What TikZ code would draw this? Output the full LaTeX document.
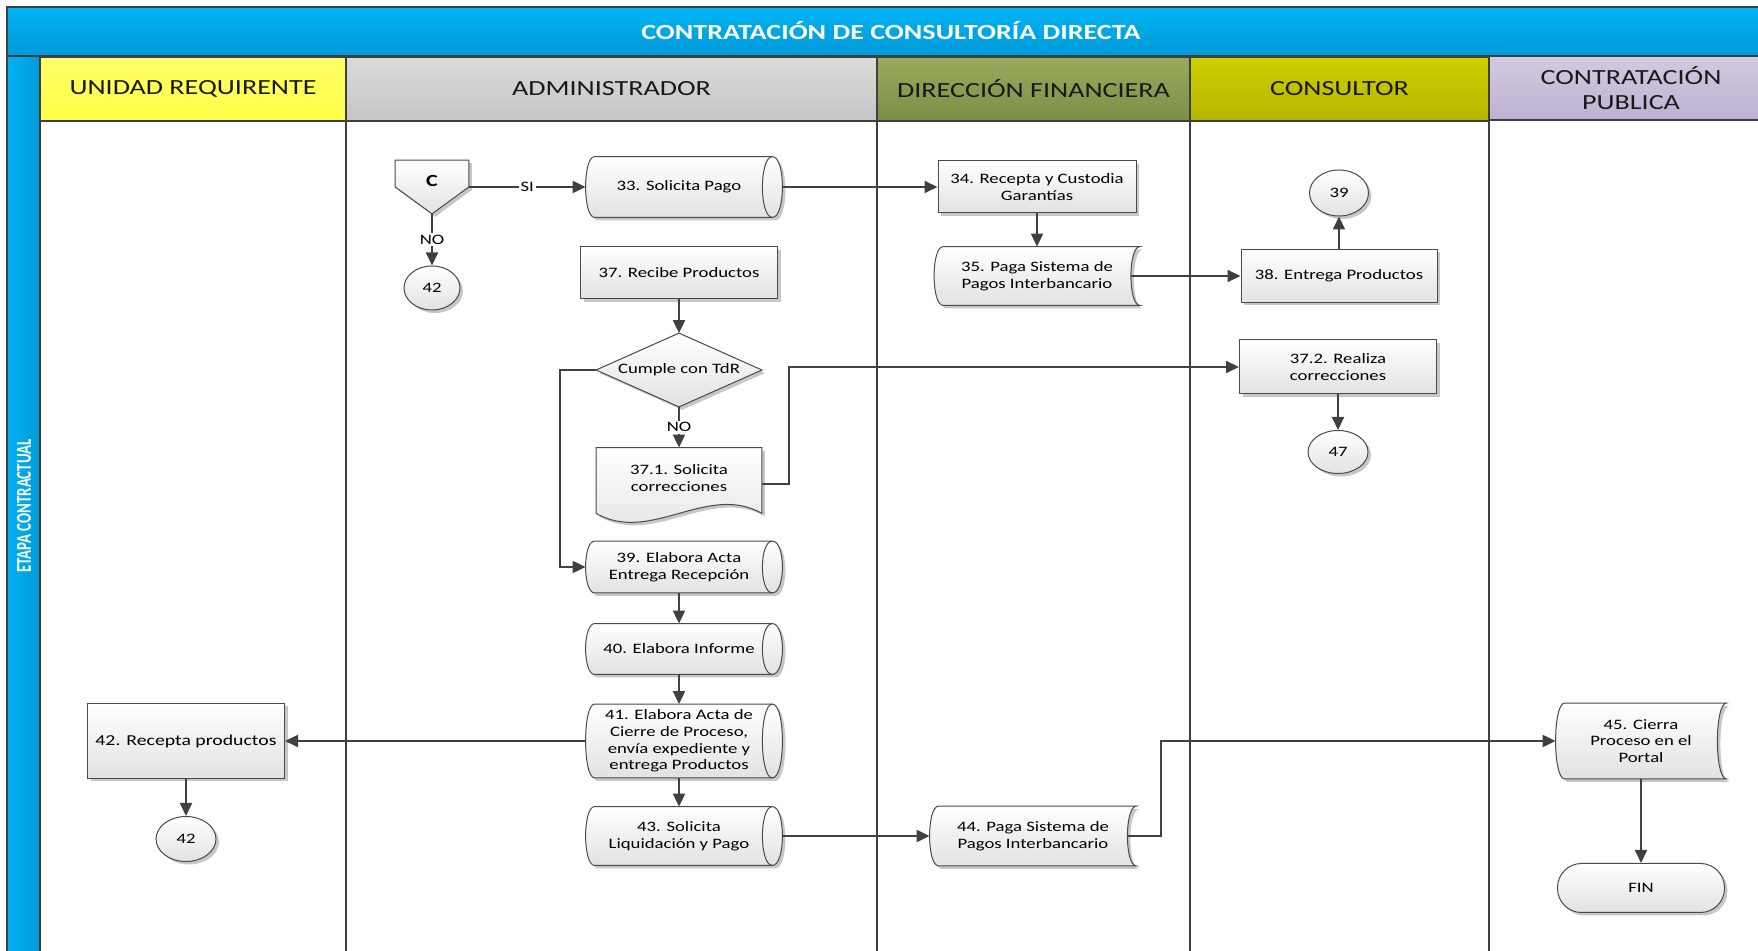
\documentclass[tikz,border=0pt]{standalone}
\usepackage{fontspec}
\setmainfont{Carlito}[FakeStretch=1.3]
\newfontfamily\sideff{Carlito}[FakeStretch=0.7]
\usetikzlibrary{arrows.meta,shapes.geometric,shadows,calc}

\definecolor{laneline}{HTML}{3F3F3F}
\definecolor{bluetop}{HTML}{00B4F2}
\definecolor{bluebot}{HTML}{0099D8}
\definecolor{yeltop}{HTML}{FFFF6A}
\definecolor{yelbot}{HTML}{FFFF48}
\definecolor{greytop}{HTML}{DBDBDB}
\definecolor{greybot}{HTML}{C5C5C5}
\definecolor{olivetop}{HTML}{99AB5D}
\definecolor{olivebot}{HTML}{7B8E47}
\definecolor{constop}{HTML}{CFCF00}
\definecolor{consbot}{HTML}{B5B500}
\definecolor{lavtop}{HTML}{D3CAE1}
\definecolor{lavbot}{HTML}{BDB1D1}
\definecolor{boxline}{HTML}{4A4A4A}
\definecolor{boxbot}{HTML}{E2E2E2}
\definecolor{arrowc}{HTML}{404040}

\newcommand\bannerfont{\bfseries\fontsize{10.8}{12.5}\selectfont}
\newcommand\lanefont{\fontsize{10.8}{12.4}\selectfont}
\newcommand\sidefont{\sideff\bfseries\fontsize{10.6}{12}\selectfont}
\newcommand\boxfont{\fontsize{7.2}{8.3}\selectfont}

\pgfdeclarelayer{lanes}
\pgfdeclarelayer{shapes}
\pgfsetlayers{lanes,shapes,main}

\begin{document}
\begin{tikzpicture}[x=0.5pt, y=-0.5pt,
lanehead/.style={rectangle, draw=laneline, line width=1pt, minimum height=32pt, inner sep=0pt, font=\lanefont, align=center, text=black!90},
box/.style={rectangle, draw=boxline, line width=0.5pt, top color=white, bottom color=boxbot, drop shadow={shadow xshift=1.5pt, shadow yshift=-1.5pt, fill=black, opacity=0.22}, font=\boxfont, align=center, inner sep=1pt},
bubble/.style={box, ellipse},
flat/.style={rectangle, draw=none, font=\boxfont, align=center, inner sep=0pt},
tag/.style={fill=white, inner sep=1pt, font=\boxfont},
arr/.style={draw=arrowc, line width=1pt, -{Triangle[length=6.5pt, width=6pt]}},
ghost/.style={fill=black, opacity=0.22, transform canvas={shift={(1.5pt,-1.5pt)}}},
skin/.style={top color=white, bottom color=boxbot, draw=boxline, line width=0.5pt},
directpath/.style={insert path={([xshift=4.5pt]#1.north west) -- (#1.north east) .. controls ([xshift=6.67pt]#1.north east) and ([xshift=6.67pt]#1.south east) .. (#1.south east) -- ([xshift=4.5pt]#1.south west) .. controls ([xshift=-1.5pt]#1.south west) and ([xshift=-1.5pt]#1.north west) .. cycle}},
lenspath/.style={insert path={(#1.north east) .. controls ([xshift=-6.67pt]#1.north east) and ([xshift=-6.67pt]#1.south east) .. (#1.south east)}},
storedpath/.style={insert path={([xshift=4.5pt]#1.north west) -- (#1.north east) .. controls ([xshift=-6pt]#1.north east) and ([xshift=-6pt]#1.south east) .. (#1.south east) -- ([xshift=4.5pt]#1.south west) .. controls ([xshift=-1.5pt]#1.south west) and ([xshift=-1.5pt]#1.north west) .. cycle}},
docpath/.style={insert path={(#1.north west) -- (#1.north east) -- ([yshift=-2.5pt]#1.south east) .. controls ($(#1.south east)!0.33!(#1.south west)+(0,13pt)$) and ($(#1.south east)!0.67!(#1.south west)+(0,-18pt)$) .. ([yshift=-2.5pt]#1.south west) -- cycle}},
offpath/.style={insert path={(#1.north west) -- (#1.north east) -- ([yshift=13.5pt]#1.south east) -- (#1.south) -- ([yshift=13.5pt]#1.south west) -- cycle}},
diapath/.style={insert path={(#1.north) -- (#1.east) -- (#1.south) -- (#1.west) -- cycle}},
]
\useasboundingbox (0,0) rectangle (1758,951);

%Lanes
\begin{pgfonlayer}{lanes}
\shade[top color=bluetop, bottom color=bluebot, draw=laneline, line width=1pt] (7,7) rectangle (1775,56);
\shade[left color=bluetop, right color=bluebot, draw=laneline, line width=1pt] (7,56) rectangle (40,960);
\node[lanehead, minimum width=153pt, top color=yeltop, bottom color=yelbot] (hunidad) at (193,89) {UNIDAD REQUIRENTE};
\node[lanehead, minimum width=265.5pt, top color=greytop, bottom color=greybot] (hadmin) at (611.5,89) {ADMINISTRADOR};
\node[lanehead, minimum width=156.5pt, top color=olivetop, bottom color=olivebot] (hfin) at (1033.5,89) {DIRECCIÓN FINANCIERA};
\node[lanehead, minimum width=149.5pt, top color=constop, bottom color=consbot] (hcons) at (1339.5,89) {CONSULTOR};
\node[lanehead, minimum width=142pt, top color=lavtop, bottom color=lavbot] (hpub) at (1631,88) {CONTRATACIÓN\\PUBLICA};
\foreach \x in {346,877,1190,1489} \draw[laneline, line width=1pt] (\x,120) -- (\x,960);
\node[font=\bannerfont, text=white] (banner) at (891,31) {CONTRATACIÓN DE CONSULTORÍA DIRECTA};
\node[font=\sidefont, text=white, rotate=90] (etapa) at (24,506) {ETAPA CONTRACTUAL};
\end{pgfonlayer}

%Nodes
\node[flat, minimum width=36.5pt, minimum height=26.5pt, font=\bfseries\fontsize{8.5}{10}\selectfont, text depth=6pt] (pC) at (432,187) {C};
\node[bubble, minimum width=28pt, minimum height=22pt] (c42a) at (432,288) {42};
\node[flat, minimum width=93pt, minimum height=30pt] (n33) at (679,187) {33. Solicita Pago};
\node[box, minimum width=98.5pt, minimum height=26pt] (n37) at (679,273) {37. Recibe Productos};
\node[flat, minimum width=82.5pt, minimum height=36.5pt] (dec) at (679,370) {Cumple con TdR};
\node[flat, minimum width=82.5pt, minimum height=30pt] (n371) at (679,478) {37.1. Solicita\\correcciones};
\node[flat, minimum width=93pt, minimum height=25.5pt] (n39) at (679,567) {39. Elabora Acta\\Entrega Recepción};
\node[flat, minimum width=93pt, minimum height=25pt] (n40) at (679,649) {40. Elabora Informe};
\node[flat, minimum width=93pt, minimum height=36.5pt] (n41) at (679,741) {41. Elabora Acta de\\Cierre de Proceso,\\envía expediente y\\entrega Productos};
\node[flat, minimum width=93pt, minimum height=29pt] (n43) at (679,836) {43. Solicita\\Liquidación y Pago};

\node[box, minimum width=99pt, minimum height=26pt] (n34) at (1037,187) {34. Recepta y Custodia\\Garantías};
\node[flat, minimum width=102.5pt, minimum height=29pt] (n35) at (1037,276) {35. Paga Sistema de\\Pagos Interbancario};
\node[flat, minimum width=103pt, minimum height=29.5pt] (n44) at (1033,836) {44. Paga Sistema de\\Pagos Interbancario};

\node[bubble, minimum width=29.5pt, minimum height=23pt] (c39) at (1339,193) {39};
\node[box, minimum width=98pt, minimum height=26.5pt] (n38) at (1339,276) {38. Entrega Productos};
\node[box, minimum width=98.5pt, minimum height=27pt] (n372) at (1338,367) {37.2. Realiza\\correcciones};
\node[bubble, minimum width=30pt, minimum height=21.5pt] (c47) at (1338,452) {47};

\node[box, minimum width=98.5pt, minimum height=37.5pt, font=\fontsize{7.6}{9}\selectfont] (n42) at (186,741) {42. Recepta productos};
\node[bubble, minimum width=30pt, minimum height=22.5pt] (c42b) at (186,839) {42};

\node[flat, minimum width=85pt, minimum height=37.5pt] (n45) at (1641,741) {45. Cierra\\Proceso en el\\Portal};
\node[box, rounded corners=12pt, minimum width=83.5pt, minimum height=24.5pt] (fin) at (1641,888) {FIN};

%Shapes behind the text
\begin{pgfonlayer}{shapes}
\foreach \n in {n33,n39,n40,n41,n43}{
  \path[ghost, directpath=\n];
  \path[skin, directpath=\n];
  \draw[boxline, line width=0.5pt, lenspath=\n];
}
\foreach \n in {n35,n44,n45}{
  \path[ghost, storedpath=\n];
  \path[skin, storedpath=\n];
}
\path[ghost, docpath=n371];
\path[skin, docpath=n371];
\path[ghost, offpath=pC];
\path[skin, offpath=pC];
\path[ghost, diapath=dec];
\path[skin, diapath=dec];
\end{pgfonlayer}

%Lines
\draw[arr] (pC.east) -- node[tag] (si) {SI} (n33.west);
\draw[arr] (pC.south) -- node[tag] (no1) {NO} (c42a.north);
\draw[arr] ([xshift=5pt]n33.east) -- (n34.west);
\draw[arr] (n34.south) -- (n35.north);
\draw[arr] ([xshift=-4.5pt]n35.east) -- (n38.west);
\draw[arr] (n38.north) -- (c39.south);
\draw[arr] (n37.south) -- (dec.north);
\draw[arr] (dec.south) -- node[tag] (no2) {NO} (n371.north);
\draw[arr] (dec.west) -- ++(-36,0) |- (n39.west);
\draw[arr] ([yshift=-3pt]n371.east) -- ++(27,0) |- (n372.west);
\draw[arr] (n372.south) -- (c47.north);
\draw[arr] (n39.south) -- (n40.north);
\draw[arr] (n40.south) -- (n41.north);
\draw[arr] (n41.south) -- (n43.north);
\draw[arr] (n41.west) -- (n42.east);
\draw[arr] (n42.south) -- (c42b.north);
\draw[arr] ([xshift=5pt]n43.east) -- (n44.west);
\draw[arr] ([xshift=-4.5pt]n44.east) -- ++(34,0) |- (n45.west);
\draw[arr] (n45.south) -- (fin.north);
\end{tikzpicture}
\end{document}
